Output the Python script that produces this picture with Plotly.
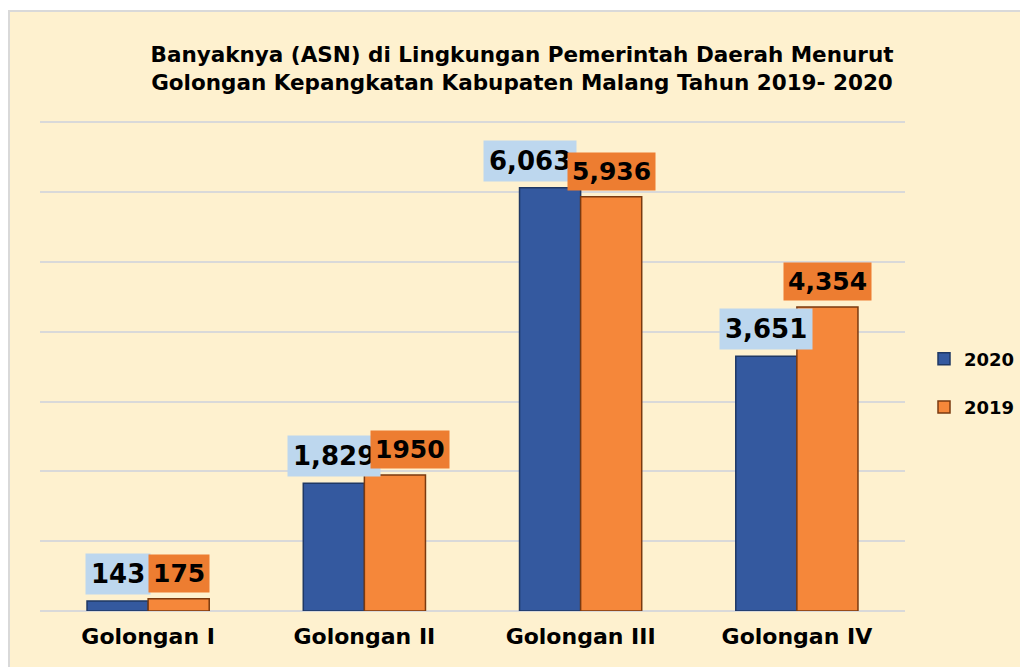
import plotly.graph_objects as go

categories = ["Golongan I", "Golongan II", "Golongan III", "Golongan IV"]
values_2020 = [143, 1829, 6063, 3651]
values_2019 = [175, 1950, 5936, 4354]
labels_2020 = ["143", "1,829", "6,063", "3,651"]
labels_2019 = ["175", "1950", "5,936", "4,354"]
series_names = ["2020", "2019"]
title_lines = ["Banyaknya (ASN) di Lingkungan Pemerintah Daerah Menurut",
               "Golongan Kepangkatan Kabupaten Malang Tahun 2019- 2020"]

BLUE = "#34599F"
ORANGE = "#F5873A"
BLUE_LBL = "#BDD7EE"
ORANGE_LBL = "#ED7D31"
BG = "#FEF1CF"
FONT = "DejaVu Sans"

# the page adds an 8px body margin; the figure is sized to fit the window
OFF = 8
W, H = 1028 - OFF, 667 - OFF
ML, MR, MT, MB = 40 - OFF, 123, 121 - OFF, 56
PW, PH = W - ML - MR, H - MT - MB
YMAX = 7020

fig = go.Figure()
fig.add_trace(go.Bar(x=categories, y=values_2020, name=series_names[0],
                     marker=dict(color=BLUE, line=dict(color="#1F3864", width=1.5)),
                     legendgroup="a"))
fig.add_trace(go.Bar(x=categories, y=values_2019, name=series_names[1],
                     marker=dict(color=ORANGE, line=dict(color="#7A3A10", width=1.5)),
                     legendgroup="b"))

# value label boxes (small manual nudges as in the reference)
nudge_2020 = {"Golongan III": -20}
nudge_2019 = {"Golongan II": 15}
half = 30.5
for c, v, t in zip(categories, values_2020, labels_2020):
    fig.add_annotation(x=c, y=v, xref="x", yref="y", text=t, showarrow=False,
                       yanchor="bottom", yshift=6, xshift=-half + nudge_2020.get(c, 0),
                       bgcolor=BLUE_LBL, borderpad=5,
                       font=dict(family=FONT, size=26, color="black", weight="bold"))
for c, v, t in zip(categories, values_2019, labels_2019):
    fig.add_annotation(x=c, y=v, xref="x", yref="y", text=t, showarrow=False,
                       yanchor="bottom", yshift=6, xshift=half + nudge_2019.get(c, 0),
                       bgcolor=ORANGE_LBL, borderpad=4,
                       font=dict(family=FONT, size=25, color="black", weight="bold"))

# chart-area background with border (screen px 9,11 -> figure px 1,3)
fig.add_shape(type="rect", xref="paper", yref="paper", layer="below",
              x0=(1 - ML) / PW, x1=(W + 20 - ML) / PW,
              y0=-(H + 20 - MT - PH) / PH, y1=(H - MB - 3) / PH,
              fillcolor=BG, line=dict(color="#D9D9D9", width=2))

fig.update_layout(
    width=W, height=H,
    margin=dict(l=ML, r=MR, t=MT, b=MB, autoexpand=False),
    paper_bgcolor="white", plot_bgcolor="rgba(0,0,0,0)",
    barmode="group", bargap=0.435, bargroupgap=0,
    title=dict(text="<br>".join(title_lines), x=(522 - OFF) / W, xanchor="center",
               y=1 - (62 - OFF) / H, yanchor="middle",
               font=dict(family=FONT, size=21.5, color="black", weight="bold")),
    legend=dict(x=(924 - OFF - ML) / PW, y=(H - MB - (383 - OFF)) / PH,
                xanchor="left", yanchor="middle", itemwidth=30,
                bgcolor="rgba(0,0,0,0)", tracegroupgap=22,
                font=dict(family=FONT, size=18, color="black", weight="bold")),
    xaxis=dict(showgrid=False, ticks="", showline=False, ticklabelstandoff=10,
               tickfont=dict(family=FONT, size=22, color="black", weight="bold")),
    yaxis=dict(range=[0, YMAX], dtick=1000, showticklabels=False,
               gridcolor="#D9D9D9", gridwidth=2, zeroline=True,
               zerolinecolor="#D9D9D9", zerolinewidth=2),
)

fig.write_html("out.html")
